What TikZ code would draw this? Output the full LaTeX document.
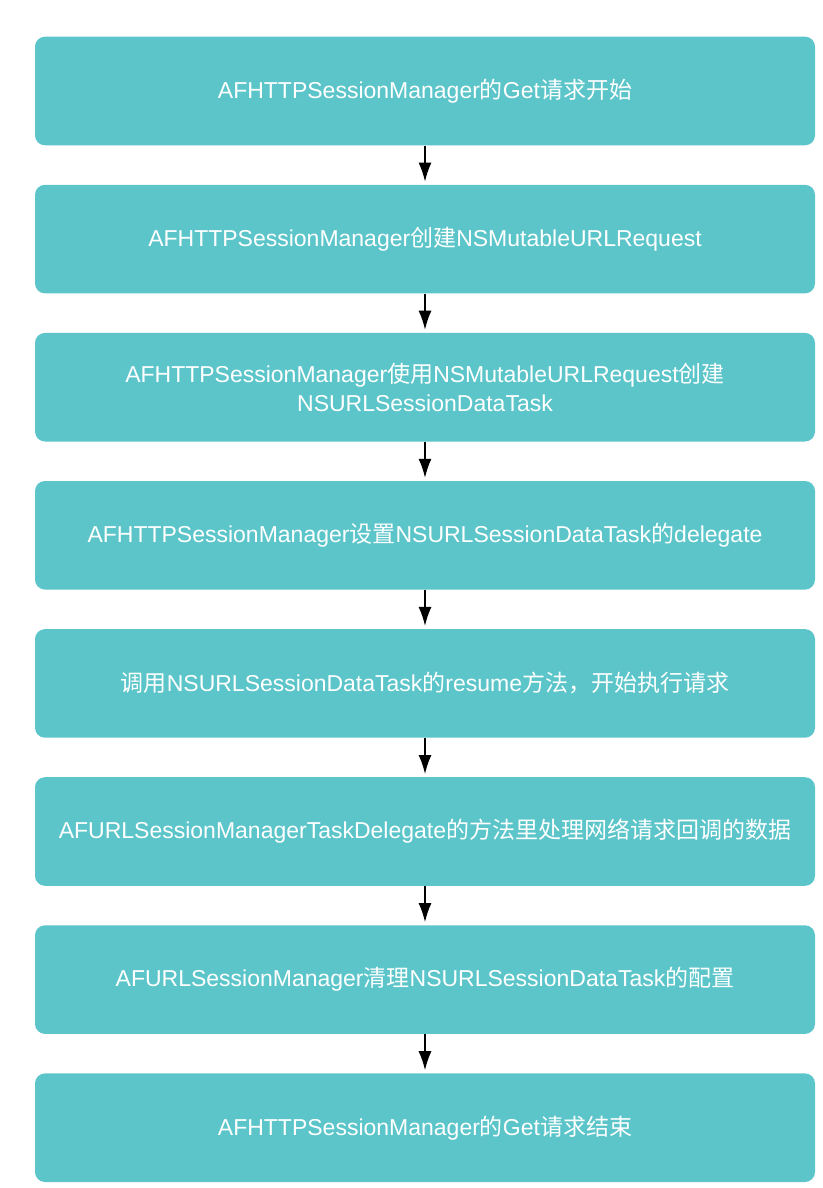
\documentclass[tikz,border=0pt]{standalone}
\usepackage{fontspec}
\setmainfont{Liberation Sans}
\newfontfamily\cjk{Noto Sans CJK SC}
\newcommand\cj[1]{{\cjk #1}}
\usetikzlibrary{arrows.meta}
\definecolor{boxteal}{RGB}{91,197,202}
\tikzset{
  flowbox/.style={rounded corners=10pt, fill=boxteal, draw=none,
    minimum width=780pt, minimum height=108.6pt, text=white, align=center,
    font=\fontsize{23}{28.5}\selectfont, inner sep=0pt},
  flowarrow/.style={-{Latex[length=19pt,width=13pt]}, line width=1.5pt, black, shorten >=3pt}
}
\begin{document}
\begin{tikzpicture}[x=1pt,y=-1pt]
\useasboundingbox (0,0) rectangle (822,1188);
\node[flowbox] (b1) at (425,91.0) {AFHTTPSessionManager\cj{的}Get\cj{请求开始}};
\node[flowbox] (b2) at (425,239.1) {AFHTTPSessionManager\cj{创建}NSMutableURLRequest};
\node[flowbox] (b3) at (425,387.2) {AFHTTPSessionManager\cj{使用}NSMutableURLRequest\cj{创建}\\NSURLSessionDataTask};
\node[flowbox] (b4) at (425,535.3) {AFHTTPSessionManager\cj{设置}NSURLSessionDataTask\cj{的}delegate};
\node[flowbox] (b5) at (425,683.4) {\cj{调用}NSURLSessionDataTask\cj{的}resume\cj{方法，开始执行请求}};
\node[flowbox] (b6) at (425,831.5) {AFURLSessionManagerTaskDelegate\cj{的方法里处理网络请求回调的数据}};
\node[flowbox] (b7) at (425,979.6) {AFURLSessionManager\cj{清理}NSURLSessionDataTask\cj{的配置}};
\node[flowbox] (b8) at (425,1127.7) {AFHTTPSessionManager\cj{的}Get\cj{请求结束}};
\foreach \a/\b in {b1/b2,b2/b3,b3/b4,b4/b5,b5/b6,b6/b7,b7/b8}
  \draw[flowarrow] (\a.south) -- (\b.north);
\end{tikzpicture}
\end{document}
